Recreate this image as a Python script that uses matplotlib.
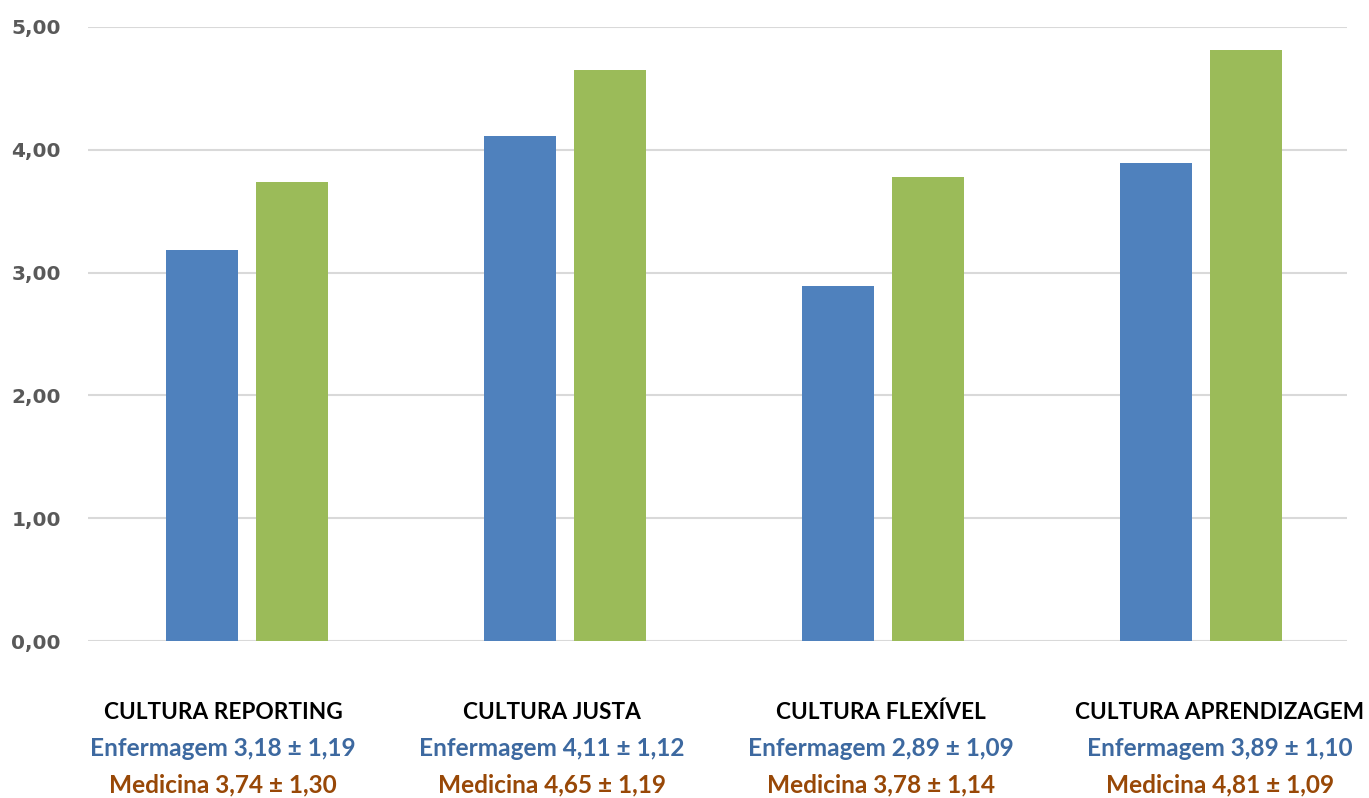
import matplotlib.pyplot as plt
import numpy as np

categorias = ["CULTURA REPORTING", "CULTURA JUSTA", "CULTURA FLEXÍVEL", "CULTURA APRENDIZAGEM"]
enf_media = [3.18, 4.11, 2.89, 3.89]
enf_dp = [1.19, 1.12, 1.09, 1.10]
med_media = [3.74, 4.65, 3.78, 4.81]
med_dp = [1.30, 1.19, 1.14, 1.09]
yticks = [0, 1, 2, 3, 4, 5]

cor_enf = "#4F81BD"
cor_med = "#9BBB59"
txt_enf = "#3D69A0"
txt_med = "#984807"


def fmt(v):
    return f"{v:.2f}".replace(".", ",")


fig = plt.figure(figsize=(13.69, 7.98), dpi=100)
ax = fig.add_axes([0.0643, 0.1967, 0.9291, 0.7695])

x = np.arange(len(categorias))
w = 0.225
ax.bar(x - 0.1415, enf_media, width=w, color=cor_enf, zorder=3)
ax.bar(x + 0.1415, med_media, width=w, color=cor_med, zorder=3)

ax.set_xlim(-0.5, 3.5)
ax.set_ylim(0, 5)
ax.set_yticks(yticks)
ax.set_yticklabels([fmt(v) for v in yticks], fontsize=14.5, fontweight="bold",
                   color="#595959", family="DejaVu Sans")
ax.tick_params(axis="y", length=0, pad=19.5)
ax.set_xticks([])
# linhas de grade só até o fim da área do gráfico
ax.hlines(yticks, -0.5, 3.46, color="#D9D9D9", linewidth=1.5, zorder=0)
for s in ax.spines.values():
    s.set_visible(False)

# rótulos das categorias com média ± desvio padrão
xlab = [-0.0755, 0.959, 1.994, 3.06]
for i, cat in enumerate(categorias):
    ax.text(xlab[i], -0.578, cat, ha="center", va="center", fontsize=16.3,
            fontweight="bold", color="black", family="Lato")
    ax.text(xlab[i], -0.871, f"Enfermagem {fmt(enf_media[i])} ± {fmt(enf_dp[i])}",
            ha="center", va="center", fontsize=17.6, fontweight="bold",
            color=txt_enf, family="Lato")
    ax.text(xlab[i], -1.173, f"Medicina {fmt(med_media[i])} ± {fmt(med_dp[i])}",
            ha="center", va="center", fontsize=17.6, fontweight="bold",
            color=txt_med, family="Lato")

fig.savefig("out.png", dpi=100)
